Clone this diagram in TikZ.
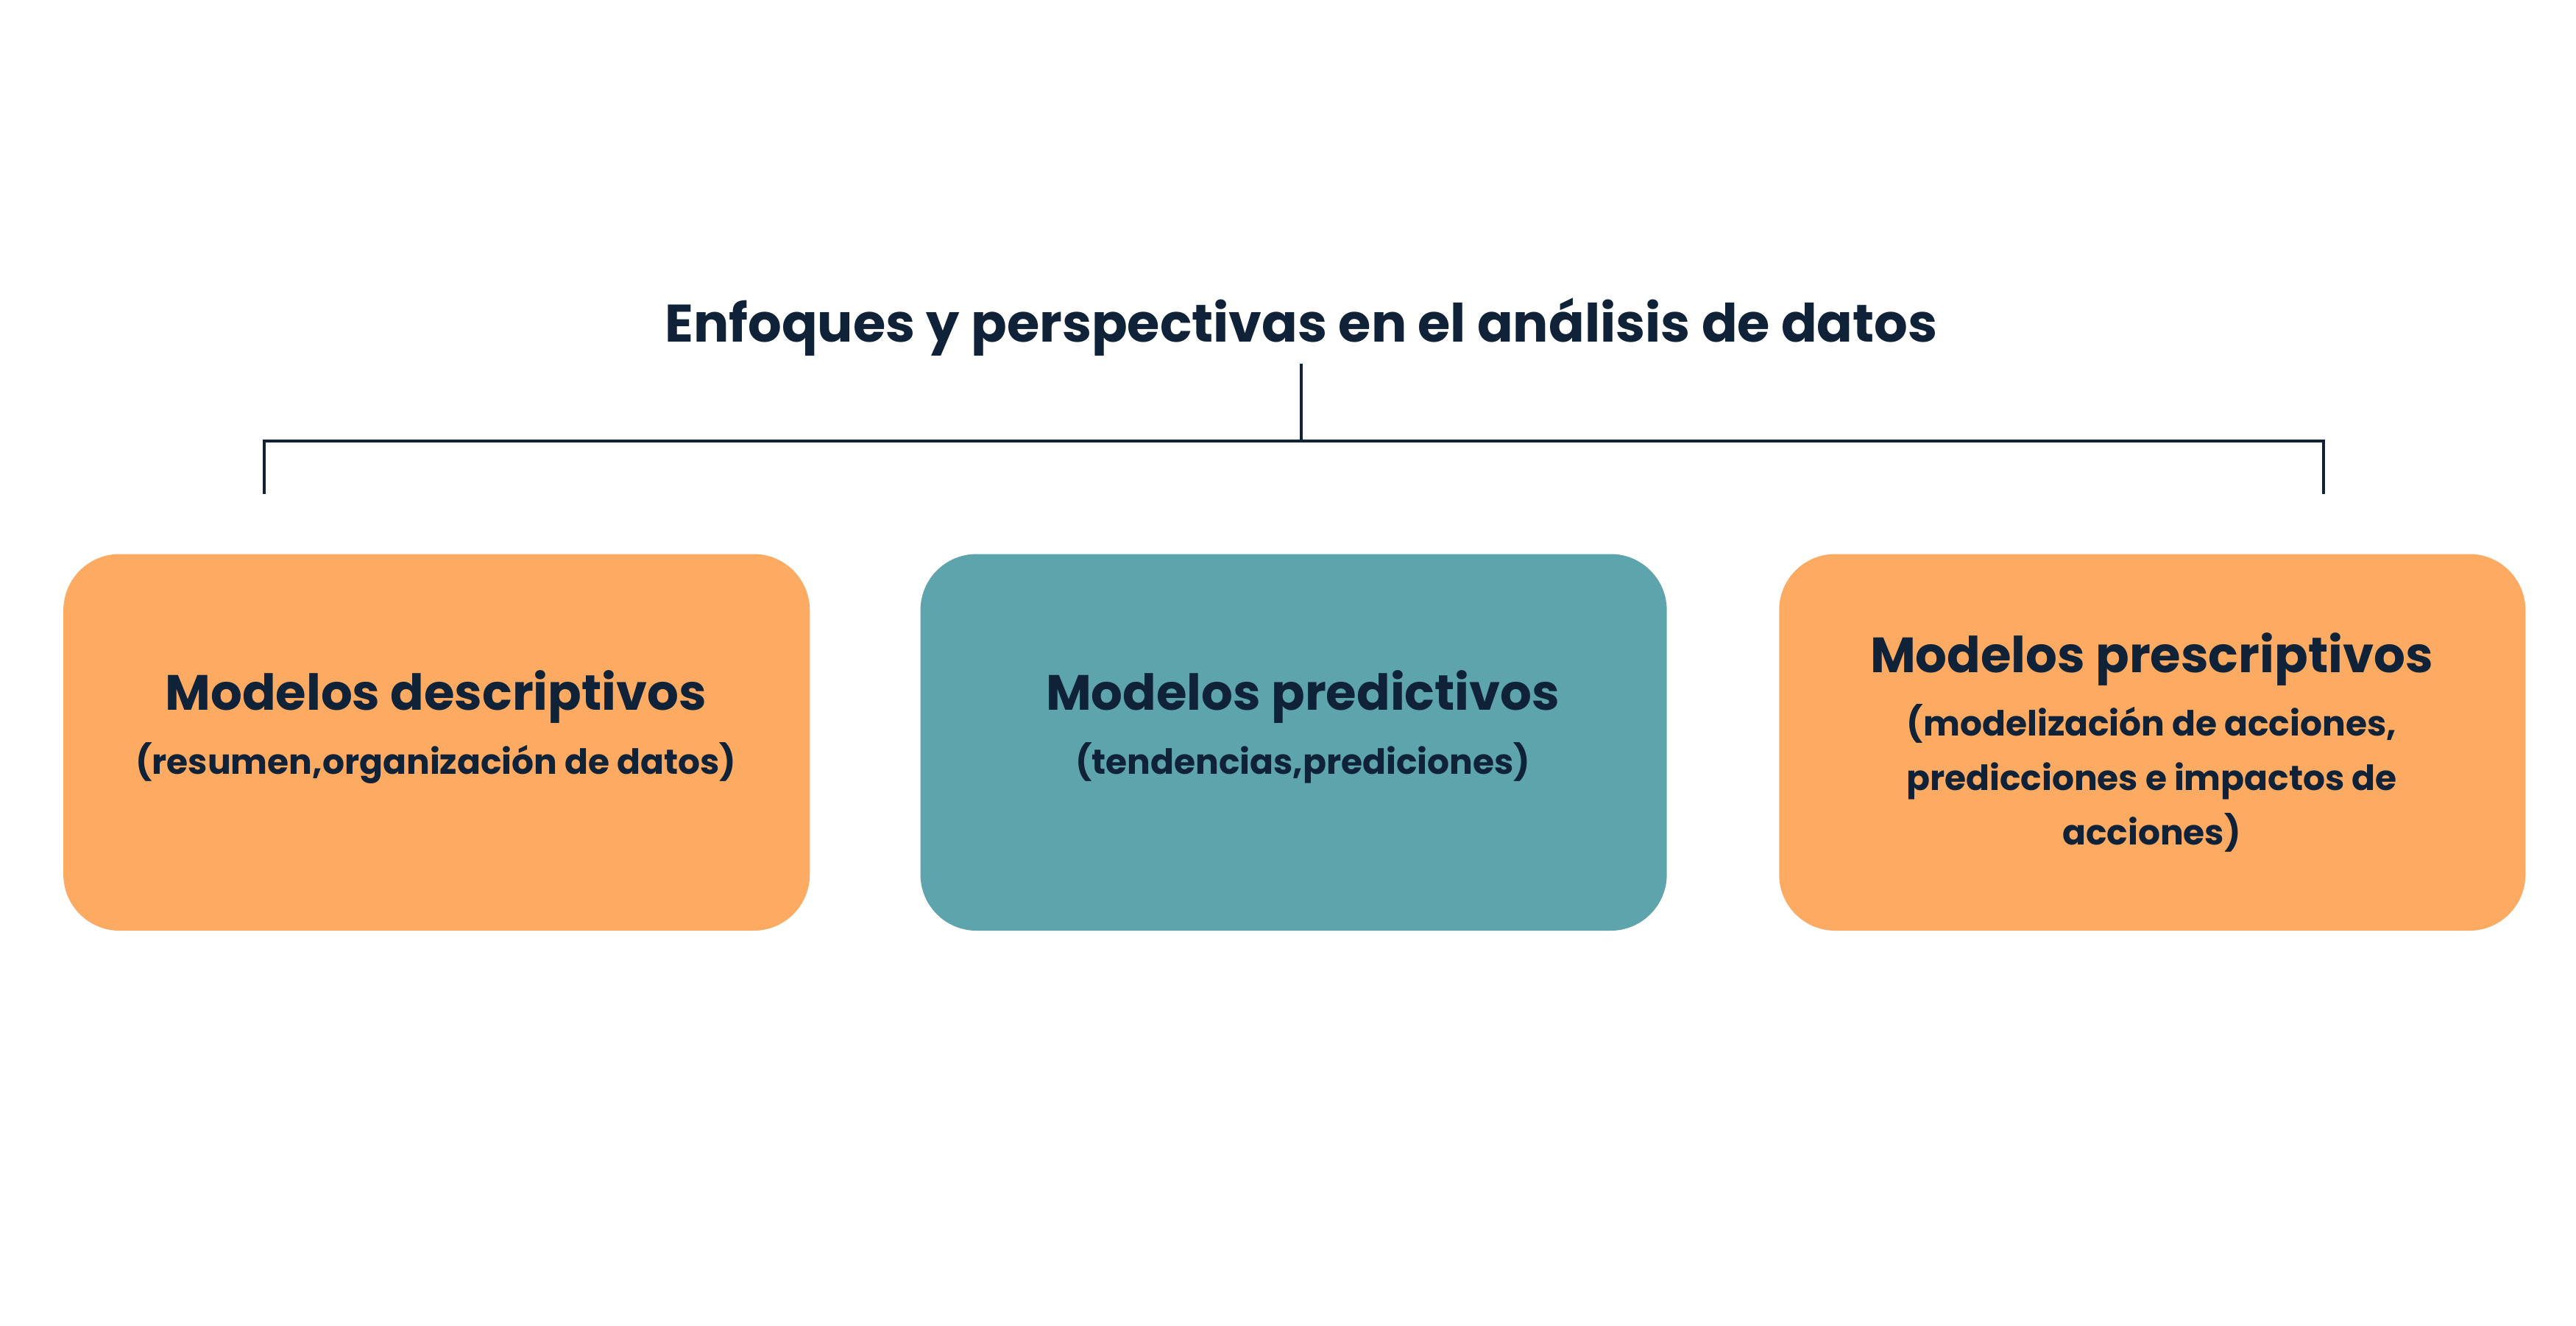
\documentclass[tikz,border=0pt]{standalone}
\usepackage{fontspec}
\setmainfont{Poppins}
\definecolor{navy}{HTML}{0F2238}
\definecolor{orng}{HTML}{FDAA62}
\definecolor{teal}{HTML}{5DA4AC}
\begin{document}
\begin{tikzpicture}[x=0.5pt,y=-0.5pt,
  box/.style={rounded corners=17pt,minimum width=226pt,minimum height=114pt,inner sep=0pt,anchor=north west},
  head/.style={font=\bfseries\fontsize{15}{18}\selectfont,text=navy},
  sub/.style={font=\bfseries\fontsize{10.5}{16.5}\selectfont,text=navy,align=center},
  conn/.style={draw=navy,line width=0.8pt}]
\useasboundingbox[fill=white] (0,0) rectangle (1560,802.3);
\node[font=\bfseries\fontsize{16}{19}\selectfont,text=navy] (title) at (788,198) {Enfoques y perspectivas en el análisis de datos};
\node[box,fill=orng] (b1) at (38,335) {};
\node[box,fill=teal] (b2) at (557,335) {};
\node[box,fill=orng] (b3) at (1077,335) {};
\node[head] (h1) at (264,422) {Modelos descriptivos};
\node[sub] (s1) at (264,462) {(resumen,organización de datos)};
\node[head] (h2) at (789,422) {Modelos predictivos};
\node[sub] (s2) at (789,462) {(tendencias,prediciones)};
\node[head] (h3) at (1303,399) {Modelos prescriptivos};
\node[sub] (s3) at (1303,471) {(modelización de acciones,\\predicciones e impactos de\\acciones)};
\coordinate (top) at (788,220);
\coordinate (mid) at (788,267);
\coordinate (l1) at (160,267);
\coordinate (l2) at (160,299);
\coordinate (r1) at (1407,267);
\coordinate (r2) at (1407,299);
\draw[conn] (top) -- (mid);
\draw[conn] (l2) -- (l1) -- (r1) -- (r2);
\end{tikzpicture}
\end{document}
